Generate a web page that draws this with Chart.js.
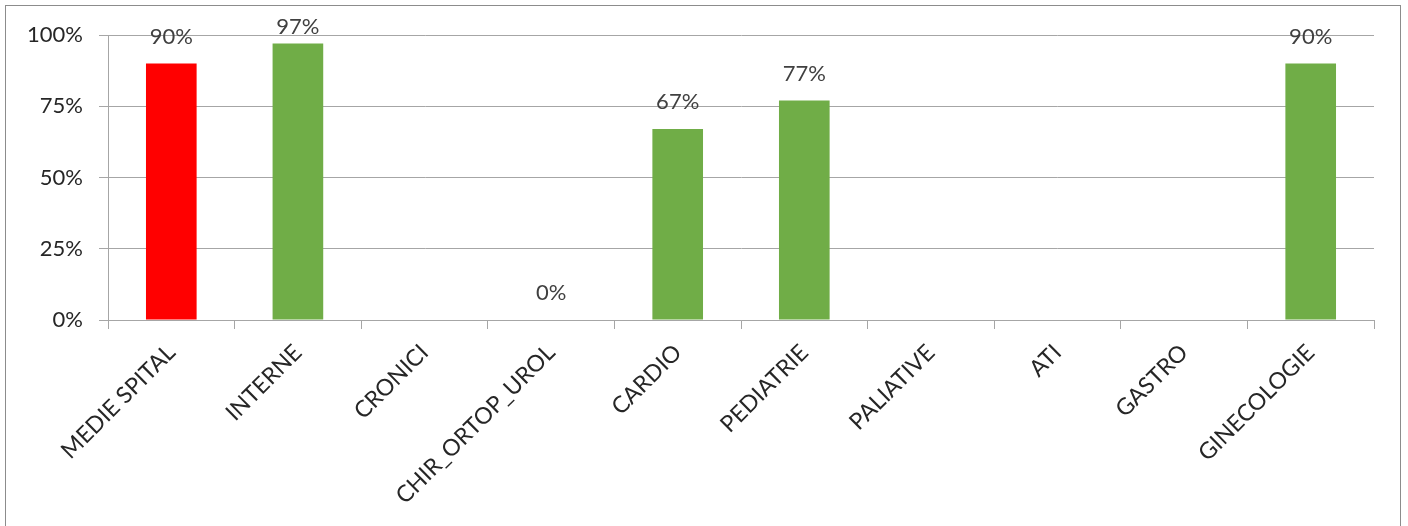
<!DOCTYPE html>
<html>
<head>
<meta charset="utf-8">
<script src="https://cdn.jsdelivr.net/npm/chart.js@4/dist/chart.umd.min.js"></script>
<style>
  html, body { margin: 0; padding: 0; background: #fff; }
  #wrap { position: relative; width: 1408px; height: 526px; overflow: hidden; }
  #frame { position: absolute; left: 5px; top: 5px; width: 1396px; height: 540px; border: 1px solid #8c8c8c; box-sizing: border-box; }
  canvas { position: absolute; left: 0; top: 0; }
</style>
</head>
<body>
<div id="wrap">
  <div id="frame"></div>
  <canvas id="chart" width="1408" height="526"></canvas>
</div>
<script>
// categories and values (null = no bar, no label)
const categories = ['MEDIE SPITAL', 'INTERNE', 'CRONICI', 'CHIR_ORTOP_UROL', 'CARDIO',
  'PEDIATRIE', 'PALIATIVE', 'ATI', 'GASTRO', 'GINECOLOGIE'];
const percentValues = [90, 97, null, 0, 67, 77, null, null, null, 90];
const yTicks = [0, 25, 50, 75, 100];

const RED = '#ff0000';
const GREEN = '#70ad47';
const GRID = '#a6a6a6';
const FONT = "Lato, 'Open Sans', sans-serif";

// value labels above the bars, drawn by hand (no datalabels plugin offline)
const valueLabels = {
  id: 'valueLabels',
  afterDatasetsDraw(chart) {
    const { ctx } = chart;
    const meta = chart.getDatasetMeta(0);
    ctx.save();
    ctx.font = '22px ' + FONT;
    ctx.fillStyle = '#404040';
    ctx.textAlign = 'center';
    ctx.textBaseline = 'middle';
    meta.data.forEach((bar, i) => {
      const v = percentValues[i];
      if (v === null) return;
      const y = Math.max(bar.y - 27, 27);
      ctx.fillText(v + '%', bar.x, y);
    });
    ctx.restore();
  }
};

const chart = new Chart(document.getElementById('chart'), {
  type: 'bar',
  data: {
    labels: categories,
    datasets: [{
      data: percentValues,
      backgroundColor: (c) => (c.dataIndex === 0 ? RED : GREEN),
      borderWidth: 0,
      barPercentage: 0.4,
      categoryPercentage: 1.0,
    }],
  },
  options: {
    responsive: false,
    animation: false,
    layout: { padding: { top: 35, right: 34, left: 0, bottom: 0 } },
    plugins: {
      legend: { display: false },
      tooltip: { enabled: false },
    },
    scales: {
      x: {
        afterFit: (s) => { s.height = 206; },
        grid: { offset: true, drawOnChartArea: false, drawTicks: true, tickLength: 9, color: GRID },
        border: { display: true, color: GRID, width: 1 },
        ticks: {
          minRotation: 45,
          maxRotation: 45,
          autoSkip: false,
          padding: 10,
          color: '#262626',
          font: { family: FONT, size: 23 },
        },
      },
      y: {
        min: 0,
        max: 100,
        afterFit: (s) => { s.width = 108; },
        afterBuildTicks: (s) => { s.ticks = yTicks.map((v) => ({ value: v })); },
        grid: { color: GRID, tickLength: 9, drawTicks: true },
        border: { display: true, color: GRID, width: 1 },
        ticks: {
          padding: 16,
          color: '#262626',
          font: { family: FONT, size: 22 },
          callback: (v) => v + '%',
        },
      },
    },
  },
  plugins: [valueLabels],
});
</script>
</body>
</html>
